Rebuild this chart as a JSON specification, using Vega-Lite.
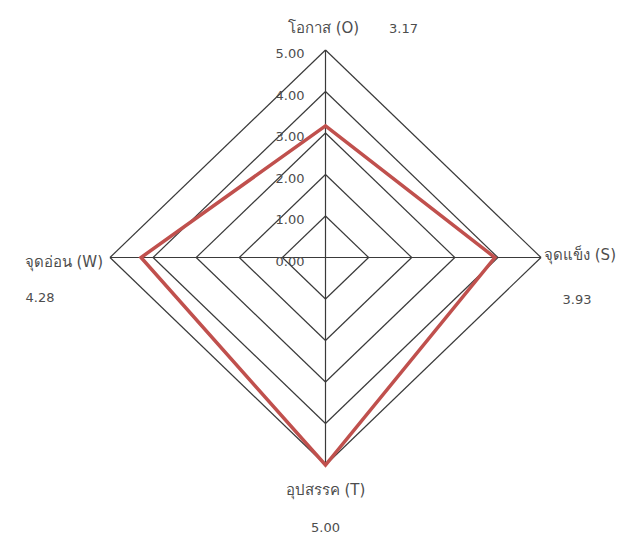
{
  "$schema": "https://vega.github.io/schema/vega-lite/v6.json",
  "width": 627,
  "height": 539,
  "autosize": {"type": "none"},
  "padding": 0,
  "background": "white",
  "config": {
    "view": {"stroke": null},
    "text": {"font": "DejaVu Sans", "fontSize": 13, "color": "#4d4d4d"}
  },
  "datasets": {
    "scores": [
      {"axis": "O", "label": "โอกาส (O)", "value": 3.17},
      {"axis": "S", "label": "จุดแข็ง (S)", "value": 3.93},
      {"axis": "T", "label": "อุปสรรค (T)", "value": 5.0},
      {"axis": "W", "label": "จุดอ่อน (W)", "value": 4.28}
    ],
    "levels": [
      {"level": 0},
      {"level": 1},
      {"level": 2},
      {"level": 3},
      {"level": 4},
      {"level": 5}
    ]
  },
  "layer": [
    {
      "data": {"name": "levels"},
      "transform": [
        {"calculate": "-datum.level", "as": "neg"},
        {"calculate": "0", "as": "zero"}
      ],
      "layer": [
        {
          "transform": [{"filter": "datum.level > 0"}],
          "mark": {"type": "rule", "color": "#3a3a3a", "strokeWidth": 1.2},
          "encoding": {
            "x": {"field": "zero", "type": "quantitative", "scale": {"domain": [-5, 5], "range": [110, 541]}, "axis": null},
            "y": {"field": "level", "type": "quantitative", "scale": {"domain": [-5, 5], "range": [465, 50]}, "axis": null},
            "x2": {"field": "level"},
            "y2": {"field": "zero"}
          }
        },
        {
          "transform": [{"filter": "datum.level > 0"}],
          "mark": {"type": "rule", "color": "#3a3a3a", "strokeWidth": 1.2},
          "encoding": {
            "x": {"field": "level", "type": "quantitative"},
            "y": {"field": "zero", "type": "quantitative"},
            "x2": {"field": "zero"},
            "y2": {"field": "neg"}
          }
        },
        {
          "transform": [{"filter": "datum.level > 0"}],
          "mark": {"type": "rule", "color": "#3a3a3a", "strokeWidth": 1.2},
          "encoding": {
            "x": {"field": "zero", "type": "quantitative"},
            "y": {"field": "neg", "type": "quantitative"},
            "x2": {"field": "neg"},
            "y2": {"field": "zero"}
          }
        },
        {
          "transform": [{"filter": "datum.level > 0"}],
          "mark": {"type": "rule", "color": "#3a3a3a", "strokeWidth": 1.2},
          "encoding": {
            "x": {"field": "neg", "type": "quantitative"},
            "y": {"field": "zero", "type": "quantitative"},
            "x2": {"field": "zero"},
            "y2": {"field": "level"}
          }
        },
        {
          "transform": [{"filter": "datum.level == 5"}],
          "mark": {"type": "rule", "color": "#3a3a3a", "strokeWidth": 1.2},
          "encoding": {
            "x": {"field": "neg", "type": "quantitative"},
            "x2": {"field": "level"},
            "y": {"field": "zero", "type": "quantitative"}
          }
        },
        {
          "transform": [{"filter": "datum.level == 5"}],
          "mark": {"type": "rule", "color": "#3a3a3a", "strokeWidth": 1.2},
          "encoding": {
            "y": {"field": "neg", "type": "quantitative"},
            "y2": {"field": "level"},
            "x": {"field": "zero", "type": "quantitative"}
          }
        },
        {
          "mark": {"type": "text", "align": "right", "baseline": "middle", "dx": -21, "dy": 4, "fontSize": 13},
          "encoding": {
            "x": {"field": "zero", "type": "quantitative"},
            "y": {"field": "level", "type": "quantitative"},
            "text": {"field": "level", "type": "quantitative", "format": ".2f"}
          }
        }
      ]
    },
    {
      "data": {"name": "scores"},
      "transform": [
        {"calculate": "datum.axis == 'S' ? 1 : datum.axis == 'W' ? -1 : 0", "as": "dirx"},
        {"calculate": "datum.axis == 'O' ? 1 : datum.axis == 'T' ? -1 : 0", "as": "diry"},
        {"calculate": "datum.dirx * datum.value", "as": "px"},
        {"calculate": "datum.diry * datum.value", "as": "py"},
        {"calculate": "datum.dirx * 5", "as": "tx"},
        {"calculate": "datum.diry * 5", "as": "ty"},
        {"calculate": "format(datum.value, '.2f')", "as": "valueText"}
      ],
      "layer": [
        {
          "mark": {"type": "line", "color": "#c0504d", "strokeWidth": 3.5, "interpolate": "linear-closed", "strokeJoin": "miter"},
          "encoding": {
            "x": {"field": "px", "type": "quantitative"},
            "y": {"field": "py", "type": "quantitative"},
            "order": {"field": "idx", "type": "quantitative"}
          }
        },
        {
          "transform": [{"filter": "datum.axis == 'O'"}],
          "mark": {"type": "text", "align": "center", "baseline": "middle", "dx": -2, "dy": -22, "fontSize": 15},
          "encoding": {
            "x": {"field": "tx", "type": "quantitative"},
            "y": {"field": "ty", "type": "quantitative"},
            "text": {"field": "label", "type": "nominal"}
          }
        },
        {
          "transform": [{"filter": "datum.axis == 'O'"}],
          "mark": {"type": "text", "align": "center", "baseline": "middle", "dx": 78, "dy": -21},
          "encoding": {
            "x": {"field": "tx", "type": "quantitative"},
            "y": {"field": "ty", "type": "quantitative"},
            "text": {"field": "valueText", "type": "nominal"}
          }
        },
        {
          "transform": [{"filter": "datum.axis == 'S'"}],
          "mark": {"type": "text", "align": "left", "baseline": "middle", "dx": 3, "dy": -3, "fontSize": 15},
          "encoding": {
            "x": {"field": "tx", "type": "quantitative"},
            "y": {"field": "ty", "type": "quantitative"},
            "text": {"field": "label", "type": "nominal"}
          }
        },
        {
          "transform": [{"filter": "datum.axis == 'S'"}],
          "mark": {"type": "text", "align": "center", "baseline": "middle", "dx": 36, "dy": 42},
          "encoding": {
            "x": {"field": "tx", "type": "quantitative"},
            "y": {"field": "ty", "type": "quantitative"},
            "text": {"field": "valueText", "type": "nominal"}
          }
        },
        {
          "transform": [{"filter": "datum.axis == 'T'"}],
          "mark": {"type": "text", "align": "center", "baseline": "middle", "dx": 0, "dy": 25, "fontSize": 15},
          "encoding": {
            "x": {"field": "tx", "type": "quantitative"},
            "y": {"field": "ty", "type": "quantitative"},
            "text": {"field": "label", "type": "nominal"}
          }
        },
        {
          "transform": [{"filter": "datum.axis == 'T'"}],
          "mark": {"type": "text", "align": "center", "baseline": "middle", "dx": 0, "dy": 63},
          "encoding": {
            "x": {"field": "tx", "type": "quantitative"},
            "y": {"field": "ty", "type": "quantitative"},
            "text": {"field": "valueText", "type": "nominal"}
          }
        },
        {
          "transform": [{"filter": "datum.axis == 'W'"}],
          "mark": {"type": "text", "align": "right", "baseline": "middle", "dx": -7, "dy": 4, "fontSize": 15},
          "encoding": {
            "x": {"field": "tx", "type": "quantitative"},
            "y": {"field": "ty", "type": "quantitative"},
            "text": {"field": "label", "type": "nominal"}
          }
        },
        {
          "transform": [{"filter": "datum.axis == 'W'"}],
          "mark": {"type": "text", "align": "center", "baseline": "middle", "dx": -70, "dy": 40},
          "encoding": {
            "x": {"field": "tx", "type": "quantitative"},
            "y": {"field": "ty", "type": "quantitative"},
            "text": {"field": "valueText", "type": "nominal"}
          }
        }
      ]
    }
  ]
}
